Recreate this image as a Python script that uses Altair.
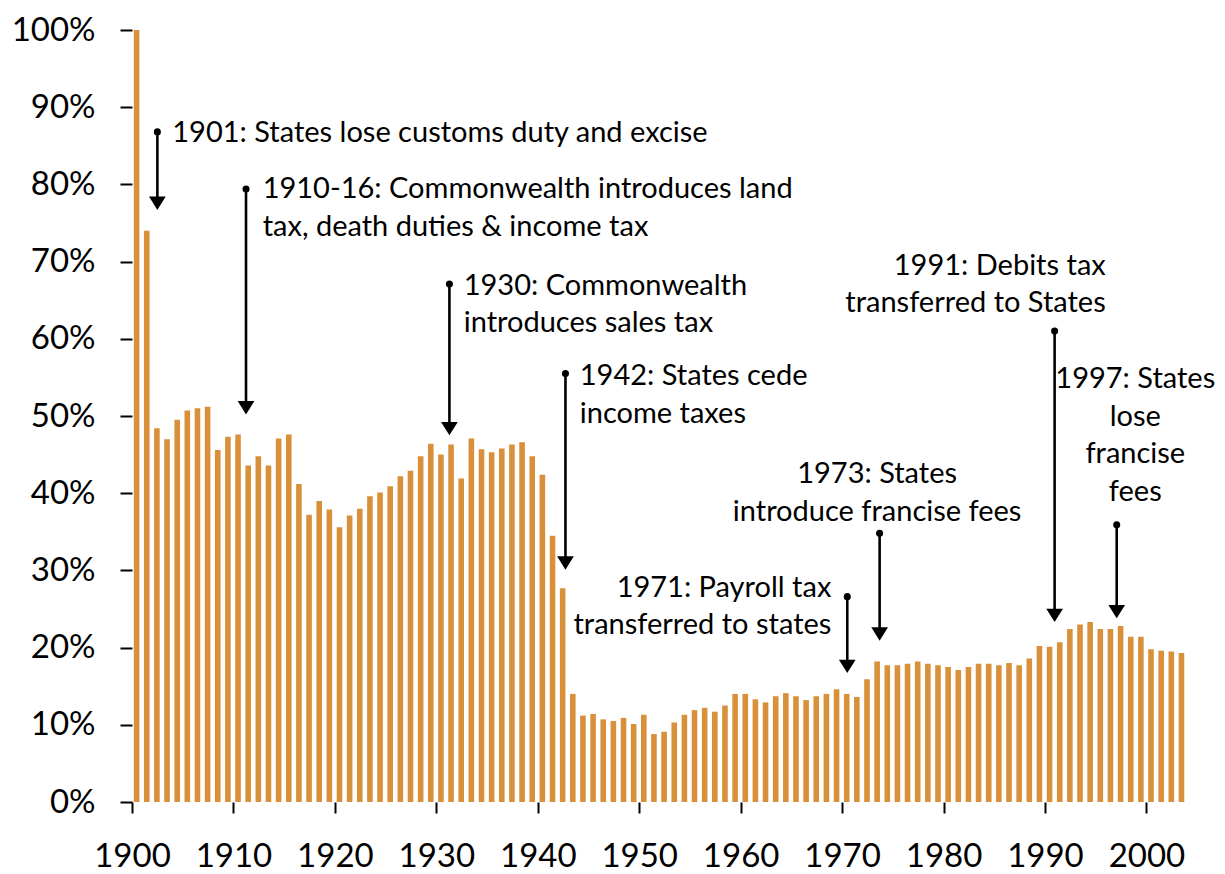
import altair as alt
import pandas as pd

# ---- data ----
years = list(range(1900, 2004))
shares = [
    100.0, 74.0, 48.4, 47.0, 49.5, 50.7, 51.0, 51.2, 45.6, 47.3,   # 1900-1909
    47.6, 43.6, 44.8, 43.6, 47.1, 47.6, 41.2, 37.2, 39.0, 37.9,    # 1910-1919
    35.6, 37.1, 38.0, 39.6, 40.1, 40.9, 42.2, 42.9, 44.8, 46.4,    # 1920-1929
    45.0, 46.3, 41.9, 47.1, 45.7, 45.3, 45.8, 46.3, 46.6, 44.8,    # 1930-1939
    42.4, 34.5, 27.7, 14.0, 11.2, 11.4, 10.7, 10.5, 10.9, 10.1,    # 1940-1949
    11.3, 8.8, 9.1, 10.3, 11.3, 11.9, 12.2, 11.7, 12.5, 14.0,      # 1950-1959
    14.0, 13.3, 12.9, 13.7, 14.1, 13.7, 13.2, 13.7, 14.0, 14.6,    # 1960-1969
    14.0, 13.6, 15.9, 18.2, 17.7, 17.7, 17.9, 18.2, 17.9, 17.7,    # 1970-1979
    17.5, 17.1, 17.5, 17.9, 17.9, 17.7, 18.0, 17.7, 18.6, 20.2,    # 1980-1989
    20.1, 20.7, 22.4, 23.0, 23.3, 22.4, 22.4, 22.8, 21.4, 21.4,    # 1990-1999
    19.8, 19.6, 19.5, 19.3,                                        # 2000-2003
]

y_tick_values = list(range(0, 101, 10))
x_tick_values = list(range(1900, 2001, 10))

# annotations (anchors in data coordinates)
ann_text = [
    "1901: States lose customs duty and excise",
    "1910-16: Commonwealth introduces land\ntax, death duties & income tax",
    "1930: Commonwealth\nintroduces sales tax",
    "1942: States cede\nincome taxes",
    "1971: Payroll tax\ntransferred to states",
    "1973: States\nintroduce francise fees",
    "1991: Debits tax\ntransferred to States",
    "1997: States\nlose\nfrancise\nfees",
]
ann_align = ["left", "left", "left", "left", "right", "center", "right", "center"]
ann_line_x = [1902.5, 1911.24, 1931.29, 1942.73, 1970.51, 1973.70, 1990.95, 1997.07]
ann_dot_y = [86.8, 79.4, 67.1, 55.5, 26.6, 34.8, 61.0, 35.9]
ann_tip_y = [76.7, 50.2, 47.5, 30.1, 16.7, 20.9, 23.3, 23.8]
ann_text_x = [1903.97, 1912.88, 1932.70, 1944.14, 1968.94, 1973.45, 1995.99, 1998.9]
ann_text_y = [85.5, 78.2, 65.7, 54.0, 26.6, 41.3, 68.3, 53.6]

bars_df = pd.DataFrame({"year": years, "share": shares})
ann_df = pd.DataFrame({
    "text": ann_text, "align": ann_align,
    "lx": ann_line_x, "ydot": ann_dot_y, "ytip": ann_tip_y,
    "tx": ann_text_x, "ty": ann_text_y,
})

FONT = "Lato"
BAR_COLOR = "#D9903A"

x_scale = alt.Scale(domain=[1900, 2004], nice=False, zero=False, padding=0)
y_scale = alt.Scale(domain=[0, 100], nice=False, padding=0)

x_axis = alt.Axis(
    values=x_tick_values, format="d", title=None, domain=False, grid=False,
    tickSize=11, tickWidth=2, tickColor="black",
    labelFont=FONT, labelFontSize=33, labelColor="black", labelPadding=27,
    labelFlush=False, labelOverlap=False,
)
y_axis = alt.Axis(
    values=y_tick_values, labelExpr="datum.value + '%'", title=None,
    domain=False, grid=False, tickSize=12, tickWidth=2, tickColor="black",
    labelFont=FONT, labelFontSize=33, labelColor="black", labelPadding=25,
)

bars = alt.Chart(bars_df).mark_bar(width=5.6, xOffset=4.6, color=BAR_COLOR).encode(
    x=alt.X("year:Q", scale=x_scale, axis=x_axis),
    y=alt.Y("share:Q", scale=y_scale, axis=y_axis),
)

ann_base = alt.Chart(ann_df)

rules = ann_base.transform_calculate(yend="datum.ytip + 1.2").mark_rule(
    color="black", strokeWidth=2.6
).encode(
    x=alt.X("lx:Q", scale=x_scale),
    y=alt.Y("ydot:Q", scale=y_scale),
    y2="yend:Q",
)

dots = ann_base.mark_circle(size=50, color="black", opacity=1).encode(
    x=alt.X("lx:Q", scale=x_scale),
    y=alt.Y("ydot:Q", scale=y_scale),
)

heads = ann_base.mark_point(
    shape="M-1,-1.6L1,-1.6L0,0Z", size=279, filled=True, color="black",
    opacity=1, strokeWidth=0,
).encode(
    x=alt.X("lx:Q", scale=x_scale),
    y=alt.Y("ytip:Q", scale=y_scale),
)

def text_layer(al):
    return ann_base.transform_filter(f"datum.align == '{al}'").mark_text(
        align=al, baseline="alphabetic", font=FONT, fontSize=29,
        lineHeight=37.5, color="black", lineBreak="\n",
    ).encode(
        x=alt.X("tx:Q", scale=x_scale),
        y=alt.Y("ty:Q", scale=y_scale),
        text="text:N",
    )

chart = alt.layer(
    bars, rules, dots, heads,
    text_layer("left"), text_layer("center"), text_layer("right"),
).properties(
    width=1055, height=772,
    autosize=alt.AutoSizeParams(type="none"),
    padding={"left": 124, "top": 22, "right": 30, "bottom": 72},
    background="white",
).configure_view(stroke=None)

chart.save("out.html", embed_options={"renderer": "svg", "actions": False})
